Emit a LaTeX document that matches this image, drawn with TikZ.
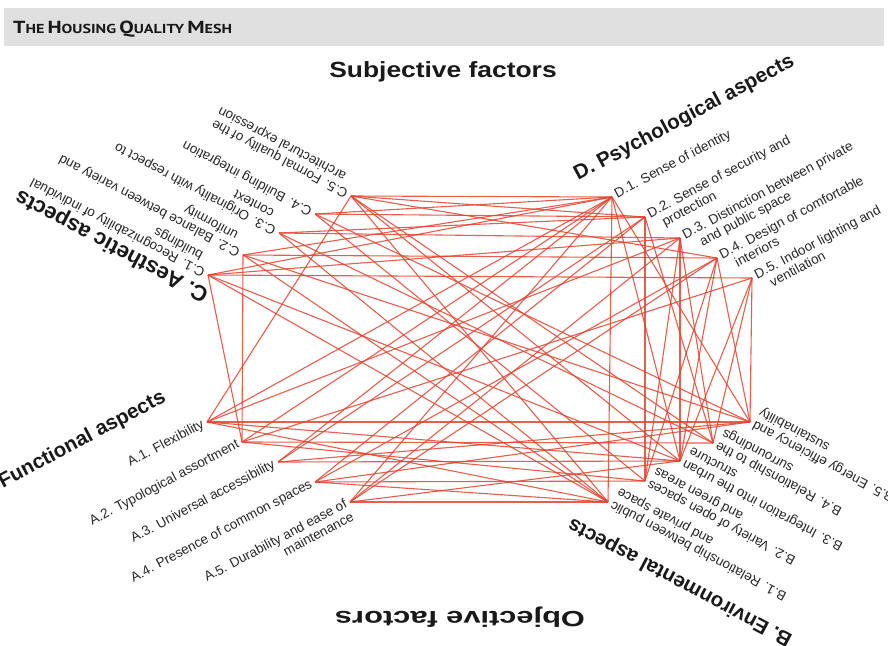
\documentclass[tikz,border=0pt]{standalone}
\usepackage{fontspec}
\setmainfont{Liberation Sans}
\newfontfamily\barfont{PT Sans}
\usetikzlibrary{calc}
\definecolor{meshred}{RGB}{229,66,46}
\definecolor{barfill}{RGB}{224,224,224}
\definecolor{inkgray}{RGB}{40,40,40}
% faked small capitals for the title bar
\newcommand{\capword}[2]{{\fontsize{17.5}{17}\selectfont #1}{\fontsize{13}{13}\selectfont #2}}
\begin{document}
\begin{tikzpicture}[x=1pt,y=-1pt,
  mesh/.style={draw=meshred, line width=1.1pt, opacity=0.85},
  lbl/.style={font=\fontsize{13.5}{15}\selectfont, text=inkgray, inner xsep=4pt, inner ysep=1pt,
              text height=9.5pt, text depth=2.5pt},
  lblA/.style={lbl, rotate=28, anchor=east},
  lblD/.style={lbl, rotate=28, anchor=west},
  lblC/.style={lbl, rotate=152, anchor=west},
  lblB/.style={lbl, rotate=152, anchor=east},
  grouptitle/.style={font=\fontsize{20.5}{22}\selectfont\bfseries, text=black!90, inner sep=0pt},
  headtitle/.style={font=\fontsize{22}{24}\selectfont\bfseries, text=black!90, inner sep=0pt}
]
\useasboundingbox (0,0) rectangle (888,645);
\fill[white] (0,0) rectangle (888,645);

% title bar
\fill[barfill] (4,8) rectangle (884,46);
\node[anchor=base west, inner sep=0pt, font=\barfont\bfseries, text=black!90] (bartitle) at (13,33)
  {\scalebox{1.24}[1]{\capword{T}{HE} \capword{H}{OUSING} \capword{Q}{UALITY} \capword{M}{ESH}}};

% mesh points
\coordinate (C1) at (208,275);
\coordinate (C2) at (243,255);
\coordinate (C3) at (279,233);
\coordinate (C4) at (315,214);
\coordinate (C5) at (351,196);
\coordinate (D1) at (612,197);
\coordinate (D2) at (645,217);
\coordinate (D3) at (680,238);
\coordinate (D4) at (717,258);
\coordinate (D5) at (752,278);
\coordinate (A1) at (207,422);
\coordinate (A2) at (242,442);
\coordinate (A3) at (278,462);
\coordinate (A4) at (315,482);
\coordinate (A5) at (350,502);
\coordinate (B1) at (608,502);
\coordinate (B2) at (645,481);
\coordinate (B3) at (680,461);
\coordinate (B4) at (713,443);
\coordinate (B5) at (750,422);

% links of the mesh
\foreach \p/\q in {
  C5/D1, C4/D2, C3/D3, C2/D4, C1/D5,
  A1/B5, A2/B4, A3/B3, A4/B2, A5/B1,
  C2/A2, C1/A2, C5/A1,
  D2/B2, D5/B5, D1/B1, D4/B3, D5/B4, D4/B5, D1/B3, D3/B4, D3/B2, D2/B4, D1/B5,
  D3/B3, D4/B2, D5/B3,
  C1/B1, C1/B3, C2/B1, C2/B5, C3/B1, C3/B4, C4/B2, C4/B5, C5/B1, C5/B3, C5/B4,
  A1/D1, A1/D3, A2/D1, A2/D5, A3/D1, A3/D2, A4/D2, A4/D4, A5/D1, A5/D3, A5/D4,
  C1/D1, C1/D3, C2/D1, C3/D2, C4/D1, C5/D2, C5/D4,
  A1/B1, A1/B3, A2/B2, A3/B5, A4/B1, A5/B3, A4/B5}
  \draw[mesh] (\p) -- (\q);

% A: functional aspects
\node[lblA] (tA1) at (A1) {A.1. Flexibility};
\node[lblA] (tA2) at (A2) {A.2. Typological assortment};
\node[lblA] (tA3) at (A3) {A.3. Universal accessibility};
\node[lblA] (tA4) at (A4) {A.4. Presence of common spaces};
\node[lblA] (tA5) at (A5) {A.5. Durability and ease of};
\node[lbl, rotate=28, anchor=north east] (tA5b) at (tA5.south east) {maintenance};
\node[grouptitle, rotate=28, anchor=base east] (tA) at (167,401) {A. Functional aspects};

% D: psychological aspects
\node[lblD] (tD1) at (D1) {D.1. Sense of identity};
\node[lblD] (tD2) at (D2) {D.2. Sense of security and};
\node[lbl, rotate=28, anchor=north west] (tD2b) at ($(tD2.south west)!9pt!(tD2.south east)$) {protection};
\node[lblD] (tD3) at (D3) {D.3. Distinction between private};
\node[lbl, rotate=28, anchor=north west] (tD3b) at ($(tD3.south west)!12pt!(tD3.south east)$) {and public space};
\node[lblD] (tD4) at (D4) {D.4. Design of comfortable};
\node[lbl, rotate=28, anchor=north west] (tD4b) at ($(tD4.south west)!10pt!(tD4.south east)$) {interiors};
\node[lblD] (tD5) at (D5) {D.5. Indoor lighting and};
\node[lbl, rotate=28, anchor=north west] (tD5b) at ($(tD5.south west)!10pt!(tD5.south east)$) {ventilation};
\node[grouptitle, rotate=28, anchor=base west] (tD) at (578,181) {D. Psychological aspects};

% C: aesthetic aspects
\node[lblC] (tC1) at (C1) {C.1. Recognizability of individual};
\node[lbl, rotate=152, anchor=north west] (tC1b) at ($(tC1.south west)!10pt!(tC1.south east)$) {buildings};
\node[lblC] (tC2) at (C2) {C.2. Balance between variety and};
\node[lbl, rotate=152, anchor=north west] (tC2b) at ($(tC2.south west)!10pt!(tC2.south east)$) {uniformity};
\node[lblC] (tC3) at (C3) {C.3. Originality with respect to};
\node[lbl, rotate=152, anchor=north west] (tC3b) at ($(tC3.south west)!10pt!(tC3.south east)$) {context};
\node[lblC] (tC4) at (C4) {C.4. Building integration};
\node[lblC] (tC5) at (C5) {C.5. Formal quality of the};
\node[lbl, rotate=152, anchor=north west] (tC5b) at ($(tC5.south west)!10pt!(tC5.south east)$) {architectural expression};
\node[grouptitle, rotate=152, anchor=base west] (tC) at (210,291) {\fontsize{22}{24}\selectfont C. Aesthetic aspects};

% B: environmental aspects
\node[lblB] (tB1) at (B1) {B.1. Relationship between public};
\node[lbl, rotate=152, anchor=north east] (tB1b) at (tB1.south east) {and private space};
\node[lblB] (tB2) at (B2) {B.2. Variety of open spaces};
\node[lbl, rotate=152, anchor=north east] (tB2b) at (tB2.south east) {and green areas};
\node[lblB] (tB3) at (B3) {B.3. Integration into the urban};
\node[lbl, rotate=152, anchor=north east] (tB3b) at (tB3.south east) {structure};
\node[lblB] (tB4) at (B4) {B.4. Relationship to the};
\node[lbl, rotate=152, anchor=north east] (tB4b) at (tB4.south east) {surroundings};
\node[lblB] (tB5) at (B5) {B.5. Energy efficiency and};
\node[lbl, rotate=152, anchor=north east] (tB5b) at (tB5.south east) {sustainability};
\node[grouptitle, rotate=152, anchor=base east] (tB) at (572,518) {B. Environmental aspects};

% factor headings
\node[headtitle] (subj) at (443,72) {\scalebox{1.2}[1]{Subjective factors}};
\node[headtitle, rotate=180] (obj) at (460,617) {\scalebox{1.4}[1]{Objective factors}};
\end{tikzpicture}
\end{document}
